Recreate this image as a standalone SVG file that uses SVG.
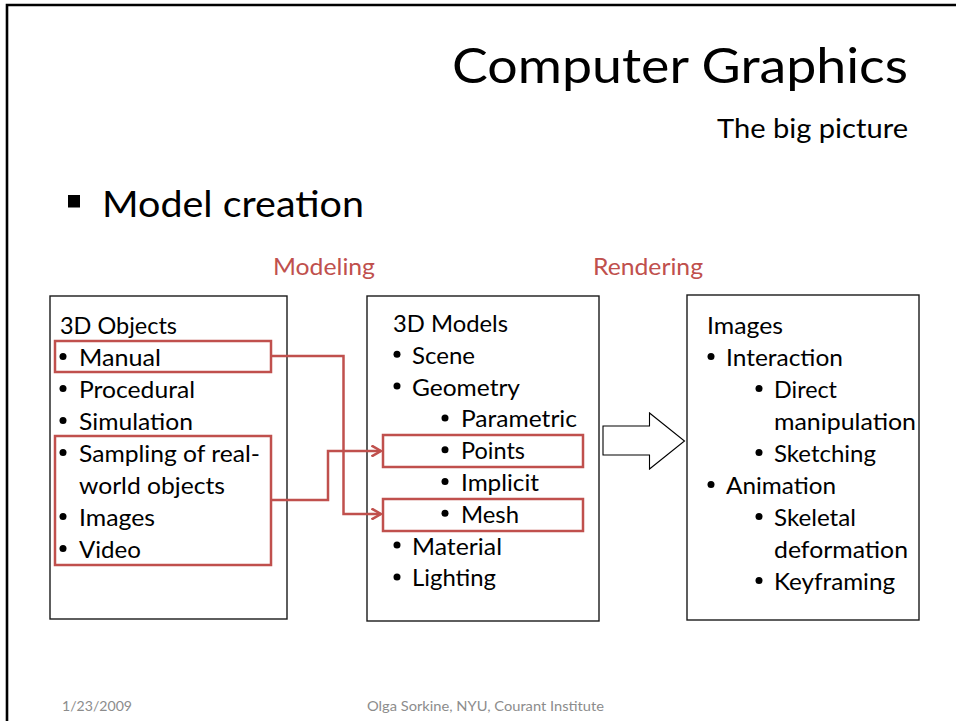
<svg xmlns="http://www.w3.org/2000/svg" width="956" height="721" viewBox="0 0 956 721">
<style>
text{font-family:Lato,"Liberation Sans",sans-serif;fill:#000}
.t{font-size:23px}
.lab{font-size:24px;fill:#C0504D}
.foot{font-size:14px;fill:#8c8c8c}
.box{fill:#fff;stroke:#1a1a1a;stroke-width:1.4}
.hl{fill:none;stroke:#C0504D;stroke-width:2.5}
.con{fill:none;stroke:#C0504D;stroke-width:2.5}
.dot{fill:#000}
</style>
<defs>
<marker id="chev" viewBox="0 0 12 12" refX="10.5" refY="6" markerWidth="12" markerHeight="12" markerUnits="userSpaceOnUse" orient="auto">
<path d="M1,0.5 L10.5,6 L1,11.5" fill="none" stroke="#C0504D" stroke-width="2.5"/>
</marker>
</defs>
<rect width="956" height="721" fill="#fff"/>
<path d="M7,721 V5 H956" fill="none" stroke="#000" stroke-width="2.6"/>

<g id="title">
<text x="452" y="83" style="font-size:49px" textLength="456" lengthAdjust="spacingAndGlyphs">Computer Graphics</text>
<text x="717" y="137.5" style="font-size:26.5px" textLength="191" lengthAdjust="spacingAndGlyphs">The big picture</text>
</g>
<g id="heading">
<rect x="68" y="195" width="12" height="12.5" fill="#000"/>
<text x="102" y="217" style="font-size:36px" textLength="262" lengthAdjust="spacingAndGlyphs">Model creation</text>
</g>
<g id="stage-labels">
<text class="lab" x="273" y="275" textLength="102" lengthAdjust="spacingAndGlyphs">Modeling</text>
<text class="lab" x="593" y="275" textLength="110" lengthAdjust="spacingAndGlyphs">Rendering</text>
</g>

<g id="objects">
<rect class="box" x="50" y="296" width="237" height="323"/>
<text class="t" x="60" y="334" textLength="117" lengthAdjust="spacingAndGlyphs">3D Objects</text>
<circle class="dot" cx="63" cy="356.5" r="3.5"/><text class="t" x="79" y="366" textLength="82" lengthAdjust="spacingAndGlyphs">Manual</text>
<circle class="dot" cx="63" cy="388.5" r="3.5"/><text class="t" x="79" y="398" textLength="116" lengthAdjust="spacingAndGlyphs">Procedural</text>
<circle class="dot" cx="63" cy="420.5" r="3.5"/><text class="t" x="79" y="430" textLength="114" lengthAdjust="spacingAndGlyphs">Simulation</text>
<circle class="dot" cx="63" cy="452.5" r="3.5"/><text class="t" x="79" y="462" textLength="181" lengthAdjust="spacingAndGlyphs">Sampling of real-</text>
<text class="t" x="79" y="494" textLength="146" lengthAdjust="spacingAndGlyphs">world objects</text>
<circle class="dot" cx="63" cy="516.5" r="3.5"/><text class="t" x="79" y="526" textLength="76" lengthAdjust="spacingAndGlyphs">Images</text>
<circle class="dot" cx="63" cy="548.5" r="3.5"/><text class="t" x="79" y="558" textLength="62" lengthAdjust="spacingAndGlyphs">Video</text>
<rect class="hl" x="55" y="341" width="216" height="31"/>
<rect class="hl" x="55" y="436" width="216" height="129"/>
</g>

<g id="models">
<rect class="box" x="367" y="296" width="232" height="325"/>
<text class="t" x="393" y="332" textLength="115" lengthAdjust="spacingAndGlyphs">3D Models</text>
<circle class="dot" cx="397" cy="354.3" r="3.5"/><text class="t" x="412" y="363.8" textLength="63" lengthAdjust="spacingAndGlyphs">Scene</text>
<circle class="dot" cx="397" cy="386.1" r="3.5"/><text class="t" x="412" y="395.6" textLength="108" lengthAdjust="spacingAndGlyphs">Geometry</text>
<circle class="dot" cx="445" cy="417.9" r="3.5"/><text class="t" x="461" y="427.4" textLength="116" lengthAdjust="spacingAndGlyphs">Parametric</text>
<circle class="dot" cx="445" cy="449.7" r="3.5"/><text class="t" x="461" y="459.2" textLength="64" lengthAdjust="spacingAndGlyphs">Points</text>
<circle class="dot" cx="445" cy="481.5" r="3.5"/><text class="t" x="461" y="491" textLength="78" lengthAdjust="spacingAndGlyphs">Implicit</text>
<circle class="dot" cx="445" cy="513.3" r="3.5"/><text class="t" x="461" y="522.8" textLength="58" lengthAdjust="spacingAndGlyphs">Mesh</text>
<circle class="dot" cx="397" cy="545.1" r="3.5"/><text class="t" x="412" y="554.6" textLength="90" lengthAdjust="spacingAndGlyphs">Material</text>
<circle class="dot" cx="397" cy="576.9" r="3.5"/><text class="t" x="412" y="586.4" textLength="84" lengthAdjust="spacingAndGlyphs">Lighting</text>
<rect class="hl" x="383" y="435" width="200" height="32"/>
<rect class="hl" x="383" y="499" width="200" height="32"/>
</g>

<g id="render-arrow">
<polygon points="603,426 649.5,426 649.5,413 684.5,441 649.5,469 649.5,455 603,455" fill="#fff" stroke="#000" stroke-width="1.1"/>
</g>

<g id="images">
<rect class="box" x="687" y="295" width="232" height="325"/>
<text class="t" x="707" y="333.5" textLength="76" lengthAdjust="spacingAndGlyphs">Images</text>
<circle class="dot" cx="711" cy="356.5" r="3.5"/><text class="t" x="726" y="366" textLength="117" lengthAdjust="spacingAndGlyphs">Interaction</text>
<circle class="dot" cx="759" cy="388.5" r="3.5"/><text class="t" x="774" y="398" textLength="63" lengthAdjust="spacingAndGlyphs">Direct</text>
<text class="t" x="774" y="430" textLength="142" lengthAdjust="spacingAndGlyphs">manipulation</text>
<circle class="dot" cx="759" cy="452.5" r="3.5"/><text class="t" x="774" y="462" textLength="102" lengthAdjust="spacingAndGlyphs">Sketching</text>
<circle class="dot" cx="711" cy="484.5" r="3.5"/><text class="t" x="726" y="494" textLength="110" lengthAdjust="spacingAndGlyphs">Animation</text>
<circle class="dot" cx="759" cy="516.5" r="3.5"/><text class="t" x="774" y="526" textLength="82" lengthAdjust="spacingAndGlyphs">Skeletal</text>
<text class="t" x="774" y="558" textLength="134" lengthAdjust="spacingAndGlyphs">deformation</text>
<circle class="dot" cx="759" cy="580.5" r="3.5"/><text class="t" x="774" y="590" textLength="121" lengthAdjust="spacingAndGlyphs">Keyframing</text>
</g>

<g id="connectors">
<path class="con" d="M271,356 H343.5 V514 H381" marker-end="url(#chev)"/>
<path class="con" d="M271,500 H328 V451 H381" marker-end="url(#chev)"/>
</g>

<g id="footer">
<text class="foot" x="62" y="711" textLength="70" lengthAdjust="spacingAndGlyphs">1/23/2009</text>
<text class="foot" x="367" y="711" textLength="237" lengthAdjust="spacingAndGlyphs">Olga Sorkine, NYU, Courant Institute</text>
</g>
</svg>
